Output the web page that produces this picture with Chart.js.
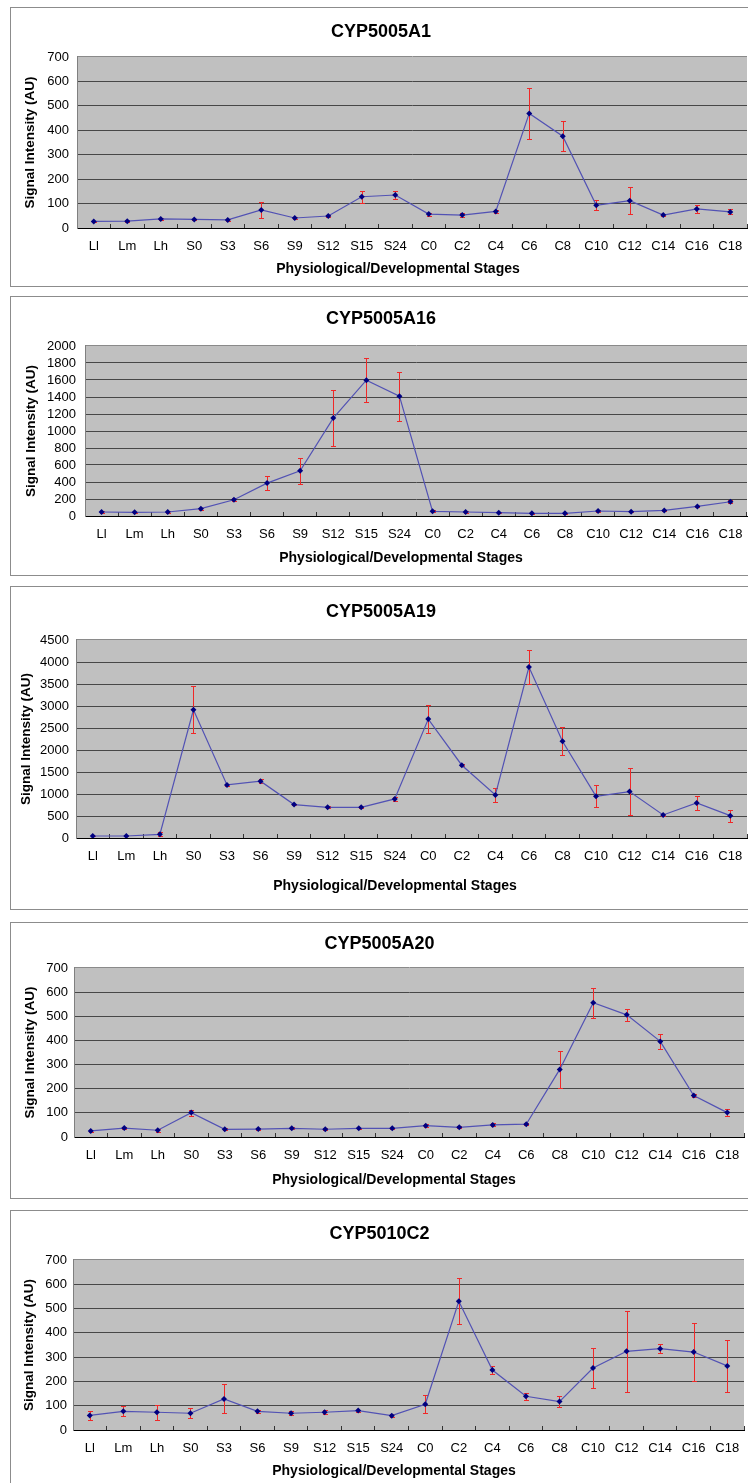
<!DOCTYPE html>
<html lang="en">
<head>
<meta charset="UTF-8">
<title>CYP expression profiles</title>
<script src="https://cdn.jsdelivr.net/npm/chart.js"></script>
<style>
    html, body { margin: 0; padding: 0; background: #fff; overflow: hidden; }
    body { width: 748px; height: 1483px; position: relative; }
    .box { position: absolute; border: 1px solid #8c8c8c; width: 760px; }
    .box canvas { position: absolute; left: 0; top: 0; }
    .xtitle {
        position: absolute;
        font: bold 14px 'Liberation Sans', Arial, sans-serif;
        white-space: nowrap;
        transform: translate(-50%, -50%);
    }
</style>
</head>
<body>
<script>
    const FONT = "'Liberation Sans', Arial, sans-serif";

    const stages = ['Ll', 'Lm', 'Lh', 'S0', 'S3', 'S6', 'S9', 'S12', 'S15', 'S24',
        'C0', 'C2', 'C4', 'C6', 'C8', 'C10', 'C12', 'C14', 'C16', 'C18'];

    // CYP5005A1
    const a1Mean = [27, 28, 37, 35, 33, 74, 41, 49, 128, 135, 57, 53, 68, 469, 376, 93, 112, 53, 78, 66];
    const a1Err = [3, 3, 4, 3, 4, 33, 4, 5, 25, 15, 6, 9, 5, 105, 60, 20, 54, 5, 16, 10];

    // CYP5005A16
    const a16Mean = [47, 43, 47, 86, 191, 387, 531, 1152, 1598, 1410, 55, 47, 39, 31, 31, 59, 51, 66, 113, 168];
    const a16Err = [12, 5, 8, 12, 15, 85, 155, 330, 260, 287, 10, 8, 6, 8, 6, 8, 6, 10, 10, 15];

    // CYP5005A19
    const a19Mean = [46, 46, 83, 2914, 1207, 1290, 759, 698, 698, 888, 2702, 1654, 979, 3885, 2200, 949, 1055, 524, 797, 508];
    const a19Err = [10, 10, 45, 530, 30, 40, 20, 20, 20, 40, 318, 25, 150, 387, 318, 255, 528, 20, 167, 137];

    // CYP5005A20
    const a20Mean = [25, 37, 28, 101, 32, 33, 36, 32, 36, 36, 47, 40, 50, 53, 280, 556, 506, 396, 172, 101];
    const a20Err = [5, 4, 7, 12, 4, 5, 4, 5, 3, 3, 5, 4, 6, 4, 75, 62, 25, 30, 8, 13];

    // CYP5010C2
    const c2Mean = [60, 77, 73, 69, 128, 77, 69, 73, 80, 59, 106, 530, 247, 139, 117, 255, 324, 335, 321, 264];
    const c2Err = [20, 21, 30, 20, 60, 7, 9, 8, 4, 5, 38, 95, 16, 15, 23, 82, 168, 19, 121, 107];

    const panels = [
        { name: 'CYP5005A1', mean: a1Mean, err: a1Err, yMax: 700, yStep: 100,
          boxLeft: 10, boxTop: 7, boxBottom: 286, plotLeft: 77, plotRight: 751, plotTop: 57, zeroY: 228,
          titleY: 32, xLabelY: 246, xTitleX: 398, xTitleY: 268, yTitleX: 30, yLabelRight: 69 },
        { name: 'CYP5005A16', mean: a16Mean, err: a16Err, yMax: 2000, yStep: 200,
          boxLeft: 10, boxTop: 296, boxBottom: 575, plotLeft: 85, plotRight: 751, plotTop: 346, zeroY: 516,
          titleY: 319, xLabelY: 534, xTitleX: 401, xTitleY: 557, yTitleX: 31, yLabelRight: 76 },
        { name: 'CYP5005A19', mean: a19Mean, err: a19Err, yMax: 4500, yStep: 500,
          boxLeft: 10, boxTop: 586, boxBottom: 909, plotLeft: 76, plotRight: 751, plotTop: 640, zeroY: 838,
          titleY: 612, xLabelY: 856, xTitleX: 395, xTitleY: 885, yTitleX: 26, yLabelRight: 69 },
        { name: 'CYP5005A20', mean: a20Mean, err: a20Err, yMax: 700, yStep: 100,
          boxLeft: 10, boxTop: 922, boxBottom: 1198, plotLeft: 74, plotRight: 748, plotTop: 968, zeroY: 1137,
          titleY: 944, xLabelY: 1155, xTitleX: 394, xTitleY: 1179, yTitleX: 30, yLabelRight: 68 },
        { name: 'CYP5010C2', mean: c2Mean, err: c2Err, yMax: 700, yStep: 100,
          boxLeft: 10, boxTop: 1210, boxBottom: 1495, plotLeft: 73, plotRight: 748, plotTop: 1260, zeroY: 1430,
          titleY: 1234, xLabelY: 1448, xTitleX: 394, xTitleY: 1470, yTitleX: 29, yLabelRight: 67 }
    ];

    // grey plot area like the Excel default
    const plotBg = {
        id: 'plotBg',
        beforeDraw(chart) {
            const { ctx, chartArea: a } = chart;
            ctx.save();
            ctx.fillStyle = '#c0c0c0';
            ctx.fillRect(a.left, a.top, a.right - a.left, a.bottom - a.top);
            ctx.restore();
        }
    };

    // vertical error bars with small caps, drawn under the line
    const errorBars = {
        id: 'errorBars',
        beforeDatasetsDraw(chart) {
            const { ctx, scales: { x, y } } = chart;
            const ds = chart.data.datasets[0];
            ctx.save();
            ctx.strokeStyle = '#f02828';
            ctx.lineWidth = 1;
            ds.data.forEach((v, i) => {
                const e = ds.errors[i];
                const px = Math.round(x.getPixelForValue(i)) + 0.5;
                const top = Math.round(y.getPixelForValue(v + e)) + 0.5;
                const bot = Math.round(y.getPixelForValue(Math.max(v - e, 0))) + 0.5;
                ctx.beginPath();
                ctx.moveTo(px, top); ctx.lineTo(px, bot);
                ctx.moveTo(px - 2.5, top); ctx.lineTo(px + 2.5, top);
                ctx.moveTo(px - 2.5, bot); ctx.lineTo(px + 2.5, bot);
                ctx.stroke();
            });
            ctx.restore();
        }
    };

    function buildPanel(p) {
        const box = document.createElement('div');
        box.className = 'box';
        box.style.left = p.boxLeft + 'px';
        box.style.top = p.boxTop + 'px';
        box.style.height = (p.boxBottom - p.boxTop - 1) + 'px';
        document.body.appendChild(box);

        const ox = p.boxLeft + 1;
        const oy = p.boxTop + 1;
        const W = p.plotRight - ox;
        const H = p.boxBottom - p.boxTop - 1;

        const canvas = document.createElement('canvas');
        canvas.width = W;
        canvas.height = H;
        canvas.style.width = W + 'px';
        canvas.style.height = H + 'px';
        box.appendChild(canvas);

        const xt = document.createElement('div');
        xt.className = 'xtitle';
        xt.textContent = 'Physiological/Developmental Stages';
        xt.style.left = p.xTitleX + 'px';
        xt.style.top = p.xTitleY + 'px';
        document.body.appendChild(xt);

        const titleTop = p.titleY - oy - 10.8;
        const titleBottom = (p.plotTop - oy) - titleTop - 21.6;
        // x labels pushed down with line height, so no sideways padding gets added
        const xLineHeight = 2 * (p.xLabelY - p.zeroY + 4) / 13;
        const yTitlePad = p.yTitleX - ox - 8.1;

        new Chart(canvas, {
            type: 'line',
            data: {
                labels: stages,
                datasets: [{
                    data: p.mean,
                    errors: p.err,
                    borderColor: '#5252b4',
                    borderWidth: 1.2,
                    pointStyle: 'rectRot',
                    pointRadius: 3,
                    pointBackgroundColor: '#000080',
                    pointBorderColor: '#000080',
                    pointBorderWidth: 0,
                    tension: 0,
                    fill: false
                }]
            },
            options: {
                responsive: false,
                animation: false,
                layout: { padding: 0 },
                plugins: {
                    legend: { display: false },
                    tooltip: { enabled: false },
                    title: {
                        display: true,
                        text: p.name,
                        color: '#000',
                        font: { family: FONT, size: 18, weight: 'bold' },
                        padding: { top: titleTop, bottom: titleBottom }
                    }
                },
                scales: {
                    x: {
                        offset: true,
                        grid: { offset: true, drawOnChartArea: false, drawTicks: true, tickLength: -4, color: '#333' },
                        border: { color: '#000', width: 1 },
                        ticks: {
                            color: '#000',
                            font: { family: FONT, size: 13, lineHeight: xLineHeight },
                            padding: 0,
                            maxRotation: 0,
                            autoSkip: false
                        },
                        afterFit: s => { s.height = H - (p.zeroY - oy); }
                    },
                    y: {
                        min: 0,
                        max: p.yMax,
                        ticks: {
                            stepSize: p.yStep,
                            autoSkip: false,
                            color: '#000',
                            font: { family: FONT, size: 13 },
                            padding: p.plotLeft - p.yLabelRight,
                            callback: v => String(v)
                        },
                        grid: {
                            drawTicks: false,
                            color: ctx => (ctx.tick && ctx.tick.value === p.yMax) ? '#8a8a8a' : '#474747'
                        },
                        border: { color: '#808080' },
                        title: {
                            display: true,
                            text: 'Signal Intensity (AU)',
                            color: '#000',
                            font: { family: FONT, size: 13.5, weight: 'bold' },
                            padding: { top: yTitlePad, bottom: 0 }
                        },
                        afterFit: s => { s.width = p.plotLeft - ox; }
                    }
                }
            },
            plugins: [plotBg, errorBars]
        });
    }

    panels.forEach(buildPanel);
</script>
</body>
</html>
